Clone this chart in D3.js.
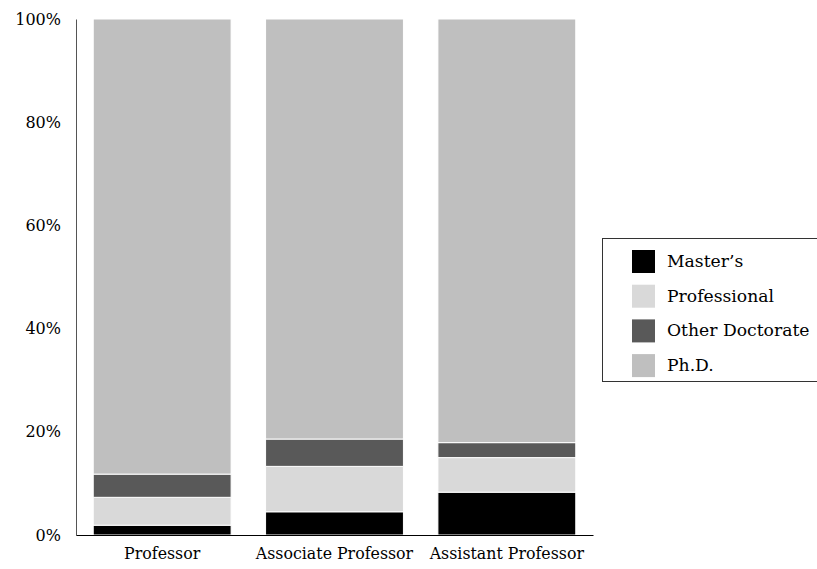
<!DOCTYPE html>
<html><head><meta charset="utf-8">
<script src="https://cdn.jsdelivr.net/npm/d3@7"></script>
<style>body{margin:0;background:#fff;} svg{display:block;}</style>
</head><body>
<svg id="chart" width="817" height="569"></svg>
<script>
const categories = ["Professor", "Associate Professor", "Assistant Professor"];
const seriesNames = ["Master’s", "Professional", "Other Doctorate", "Ph.D."];
const masters = [1.9, 4.5, 8.3];
const professional = [5.4, 8.8, 6.7];
const otherDoctorate = [4.5, 5.3, 2.9];
const phd = [88.2, 81.4, 82.1];
const yTicks = [0, 20, 40, 60, 80, 100];
const colors = ["#000000", "#d9d9d9", "#595959", "#bfbfbf"];

const font = "'DejaVu Serif', serif";
const svg = d3.select("#chart");
const m = {left: 76, right: 224, top: 19, bottom: 34};
const W = 817, H = 569;
const x = d3.scaleBand().domain(categories).range([m.left, W - m.right]).paddingInner(0.2).paddingOuter(0.1);
const y = d3.scaleLinear().domain([0, 100]).range([H - m.bottom, m.top]);

const rows = categories.map((c, i) => ({cat: c, "Master’s": masters[i], "Professional": professional[i], "Other Doctorate": otherDoctorate[i], "Ph.D.": phd[i]}));
const stack = d3.stack().keys(seriesNames)(rows);

svg.append("g").selectAll("g").data(stack).join("g")
  .attr("fill", (d, i) => colors[i])
  .selectAll("rect").data(d => d).join("rect")
  .attr("x", d => x(d.data.cat))
  .attr("width", x.bandwidth())
  .attr("y", d => y(d[1]))
  .attr("height", d => y(d[0]) - y(d[1]))
  .attr("stroke", "#fff").attr("stroke-width", 1);

const yAxis = svg.append("g").attr("transform", `translate(${m.left},0)`)
  .call(d3.axisLeft(y).tickValues(yTicks).tickFormat(d => d + "%").tickSize(0).tickPadding(15));
yAxis.select(".domain").attr("stroke", "#555");
yAxis.selectAll("text").attr("font-family", font).attr("font-size", 16).attr("fill", "#000");

const xAxis = svg.append("g").attr("transform", `translate(0,${H - m.bottom})`)
  .call(d3.axisBottom(x).tickSize(0).tickPadding(13));
xAxis.select(".domain").attr("stroke", "#000");
xAxis.selectAll("text").attr("font-family", font).attr("font-size", 15.8).attr("fill", "#000");

const lg = svg.append("g").attr("transform", "translate(602,238)");
lg.append("rect").attr("x", 0.5).attr("y", 0.5).attr("width", 240).attr("height", 143)
  .attr("fill", "#fff").attr("stroke", "#333");
const items = lg.selectAll("g.item").data(seriesNames).join("g").attr("class", "item")
  .attr("transform", (d, i) => `translate(30,${23 + i * 34.7})`);
items.append("rect").attr("x", 0).attr("y", -11).attr("width", 23).attr("height", 23).attr("fill", (d, i) => colors[i]);
items.append("text").attr("x", 35).attr("y", 0).attr("dy", "0.35em").text(d => d)
  .attr("font-family", font).attr("font-size", 17.2).attr("fill", "#000");
</script>
</body></html>
